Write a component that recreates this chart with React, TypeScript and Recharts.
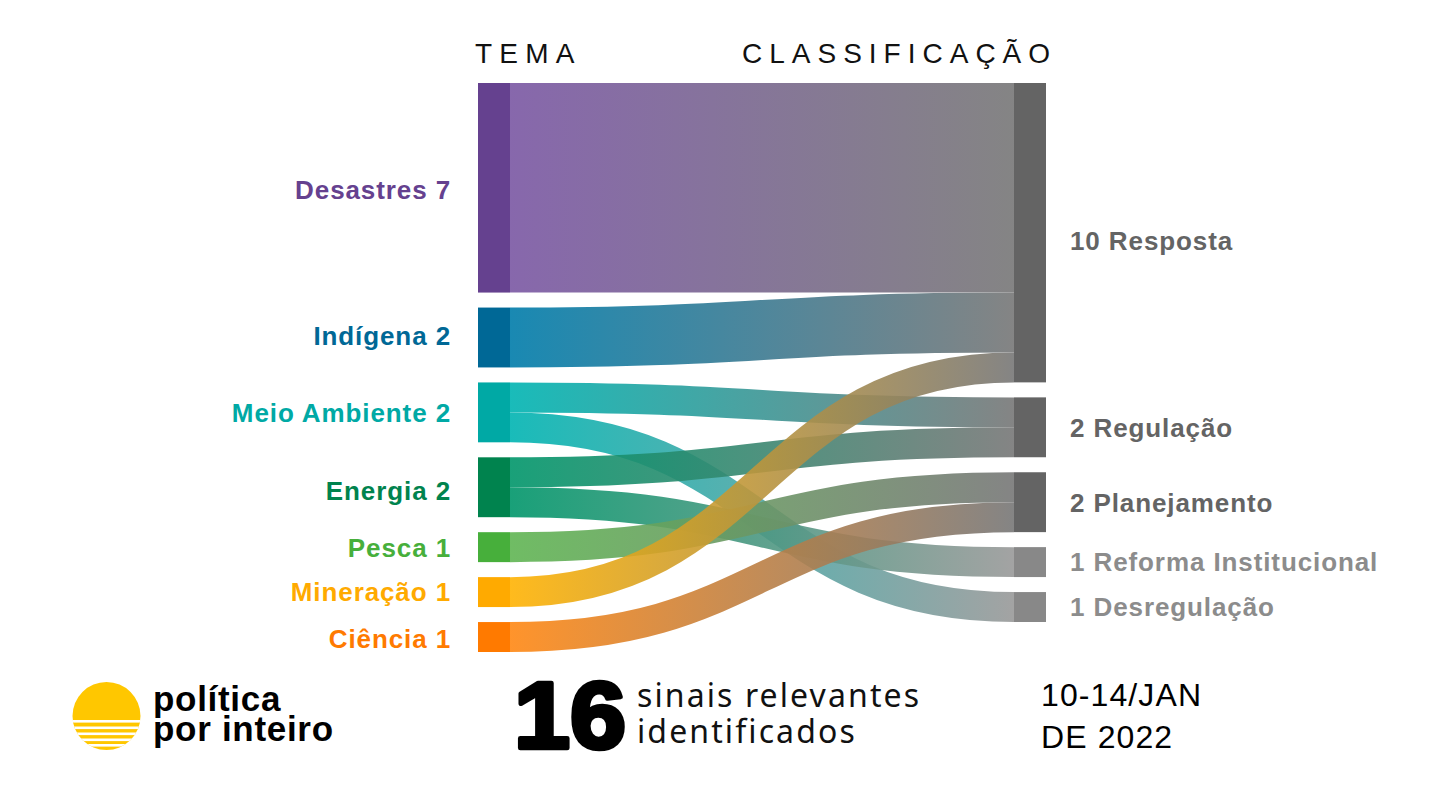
import React from 'react';
import { Sankey } from 'recharts';

// temas (coluna da esquerda) e classificações (coluna da direita)
const temas = ['Desastres', 'Indígena', 'Meio Ambiente', 'Energia', 'Pesca', 'Mineração', 'Ciência'];
const classificacoes = ['Resposta', 'Regulação', 'Planejamento', 'Reforma Institucional', 'Desregulação'];

// fluxos tema -> classificação
const fluxoOrigem = ['Desastres', 'Indígena', 'Meio Ambiente', 'Meio Ambiente', 'Energia', 'Energia', 'Pesca', 'Mineração', 'Ciência'];
const fluxoDestino = ['Resposta', 'Resposta', 'Regulação', 'Desregulação', 'Regulação', 'Reforma Institucional', 'Planejamento', 'Resposta', 'Planejamento'];
const fluxoValor = [7, 2, 1, 1, 1, 1, 1, 1, 1];

const totalSinais = 16;
const periodo = ['10-14/JAN', 'DE 2022'];

const corTema: Record<string, string> = {
  'Desastres': '#65418F',
  'Indígena': '#006896',
  'Meio Ambiente': '#00A9A5',
  'Energia': '#00834E',
  'Pesca': '#47AF3B',
  'Mineração': '#FFAA00',
  'Ciência': '#FF7A00',
};

const corFluxo: Record<string, string> = {
  'Desastres': '#7A57A3',
  'Indígena': '#007CAA',
  'Meio Ambiente': '#00B4B2',
  'Energia': '#00966A',
  'Pesca': '#60B553',
  'Mineração': '#FFB304',
  'Ciência': '#FF8814',
};

const corClass: Record<string, string> = {
  'Resposta': '#646464',
  'Regulação': '#646464',
  'Planejamento': '#646464',
  'Reforma Institucional': '#888888',
  'Desregulação': '#888888',
};

const corFluxoFim: Record<string, string> = {
  'Resposta': '#777777',
  'Regulação': '#777777',
  'Planejamento': '#777777',
  'Reforma Institucional': '#999999',
  'Desregulação': '#999999',
};

const corRotuloClass: Record<string, string> = {
  'Resposta': '#646464',
  'Regulação': '#646464',
  'Planejamento': '#646464',
  'Reforma Institucional': '#8C8C8C',
  'Desregulação': '#8C8C8C',
};

const ajusteRotulo: Record<string, number> = { 'Resposta': 8, 'Desastres': 2, 'Energia': 3, 'Ciência': 2, 'Indígena': -2 };

const nomes = [...temas, ...classificacoes];
const data = {
  nodes: nomes.map((name) => ({ name })),
  links: fluxoOrigem.map((s, i) => ({
    source: nomes.indexOf(s),
    target: nomes.indexOf(fluxoDestino[i]),
    value: fluxoValor[i],
  })),
};

const fonte = '"Liberation Sans", Arial, Helvetica, sans-serif';

const renderNode = (props: any) => {
  const { x, y, width, height, payload } = props;
  const esquerda = temas.includes(payload.name);
  const cy = y + height / 2 + (ajusteRotulo[payload.name] || 0);
  return (
    <g>
      <rect x={x} y={y} width={width} height={height} fill={esquerda ? corTema[payload.name] : corClass[payload.name]} />
      {esquerda ? (
        <text x={x - 27} y={cy} dy="0.36em" textAnchor="end" fontFamily={fonte} fontWeight={700} fontSize={26} letterSpacing={0.9} fill={corTema[payload.name]}>
          {`${payload.name} ${payload.value}`}
        </text>
      ) : (
        <text x={x + width + 24} y={cy} dy="0.36em" textAnchor="start" fontFamily={fonte} fontWeight={700} fontSize={26} letterSpacing={0.9} fill={corRotuloClass[payload.name]}>
          {`${payload.value} ${payload.name}`}
        </text>
      )}
    </g>
  );
};

const renderLink = (props: any) => {
  const { sourceX, targetX, sourceY, targetY, sourceControlX, targetControlX, linkWidth, index, payload } = props;
  const src = payload.source.name;
  const tgt = payload.target.name;
  const id = `fluxo-${index}`;
  return (
    <g>
      <defs>
        <linearGradient id={id} gradientUnits="userSpaceOnUse" x1={sourceX} y1={0} x2={targetX} y2={0}>
          <stop offset="0%" stopColor={corFluxo[src]} />
          <stop offset="100%" stopColor={corFluxoFim[tgt]} />
        </linearGradient>
      </defs>
      <path
        d={`M${sourceX},${sourceY} C${sourceControlX},${sourceY} ${targetControlX},${targetY} ${targetX},${targetY}`}
        fill="none"
        stroke={`url(#${id})`}
        strokeWidth={linkWidth}
        strokeOpacity={0.9}
      />
    </g>
  );
};

const Logo = () => (
  <g>
    <defs>
      <clipPath id="sol">
        <circle cx={106.5} cy={716} r={34} />
      </clipPath>
    </defs>
    <circle cx={106.5} cy={716} r={34} fill="#FFC700" />
    <g clipPath="url(#sol)">
      {[720, 726.5, 732.5, 738.5, 744].map((yy) => (
        <rect key={yy} x={70} y={yy} width={75} height={2.6} fill="#fff" />
      ))}
    </g>
    <text x={153} y={711} fontFamily={fonte} fontWeight={700} fontSize={35} letterSpacing={0.7} fill="#000">política</text>
    <text x={153} y={741} fontFamily={fonte} fontWeight={700} fontSize={35} letterSpacing={0.7} fill="#000">por inteiro</text>
  </g>
);

export default function App() {
  return (
    <div style={{ position: 'absolute', left: 0, top: 0, width: 1440, height: 810, background: '#fff', overflow: 'hidden' }}>
      <div style={{ position: 'absolute', left: 0, top: 0 }}>
        <Sankey
          width={1440}
          height={810}
          data={data}
          nodeWidth={32}
          nodePadding={15}
          iterations={0}
          sort={false}
          margin={{ left: 478, right: 394, top: 83, bottom: 158 }}
          node={renderNode}
          link={renderLink}
        />
      </div>
      <svg width={1440} height={810} style={{ position: 'absolute', left: 0, top: 0, pointerEvents: 'none' }}>
        <text x={475} y={63} fontFamily={fonte} fontSize={28} letterSpacing={7.2} fill="#111">TEMA</text>
        <text x={742} y={63} fontFamily={fonte} fontSize={28} letterSpacing={7} fill="#111">CLASSIFICAÇÃO</text>
        <Logo />
        <text x={514} y={748} fontFamily={fonte} fontWeight={900} fontSize={94} textLength={112} lengthAdjust="spacingAndGlyphs" stroke="#000" strokeWidth={4.5} strokeLinejoin="round" fill="#000">{totalSinais}</text>
        <text x={637} y={707} fontFamily='"Noto Sans", sans-serif' fontSize={32} letterSpacing={2.1} fill="#111">sinais relevantes</text>
        <text x={637} y={743} fontFamily='"Noto Sans", sans-serif' fontSize={32} letterSpacing={2.1} fill="#111">identificados</text>
        <text x={1041} y={706} fontFamily={fonte} fontSize={32} letterSpacing={1.1} fill="#000">{periodo[0]}</text>
        <text x={1041} y={748} fontFamily={fonte} fontSize={32} letterSpacing={1.1} fill="#000">{periodo[1]}</text>
      </svg>
    </div>
  );
}
